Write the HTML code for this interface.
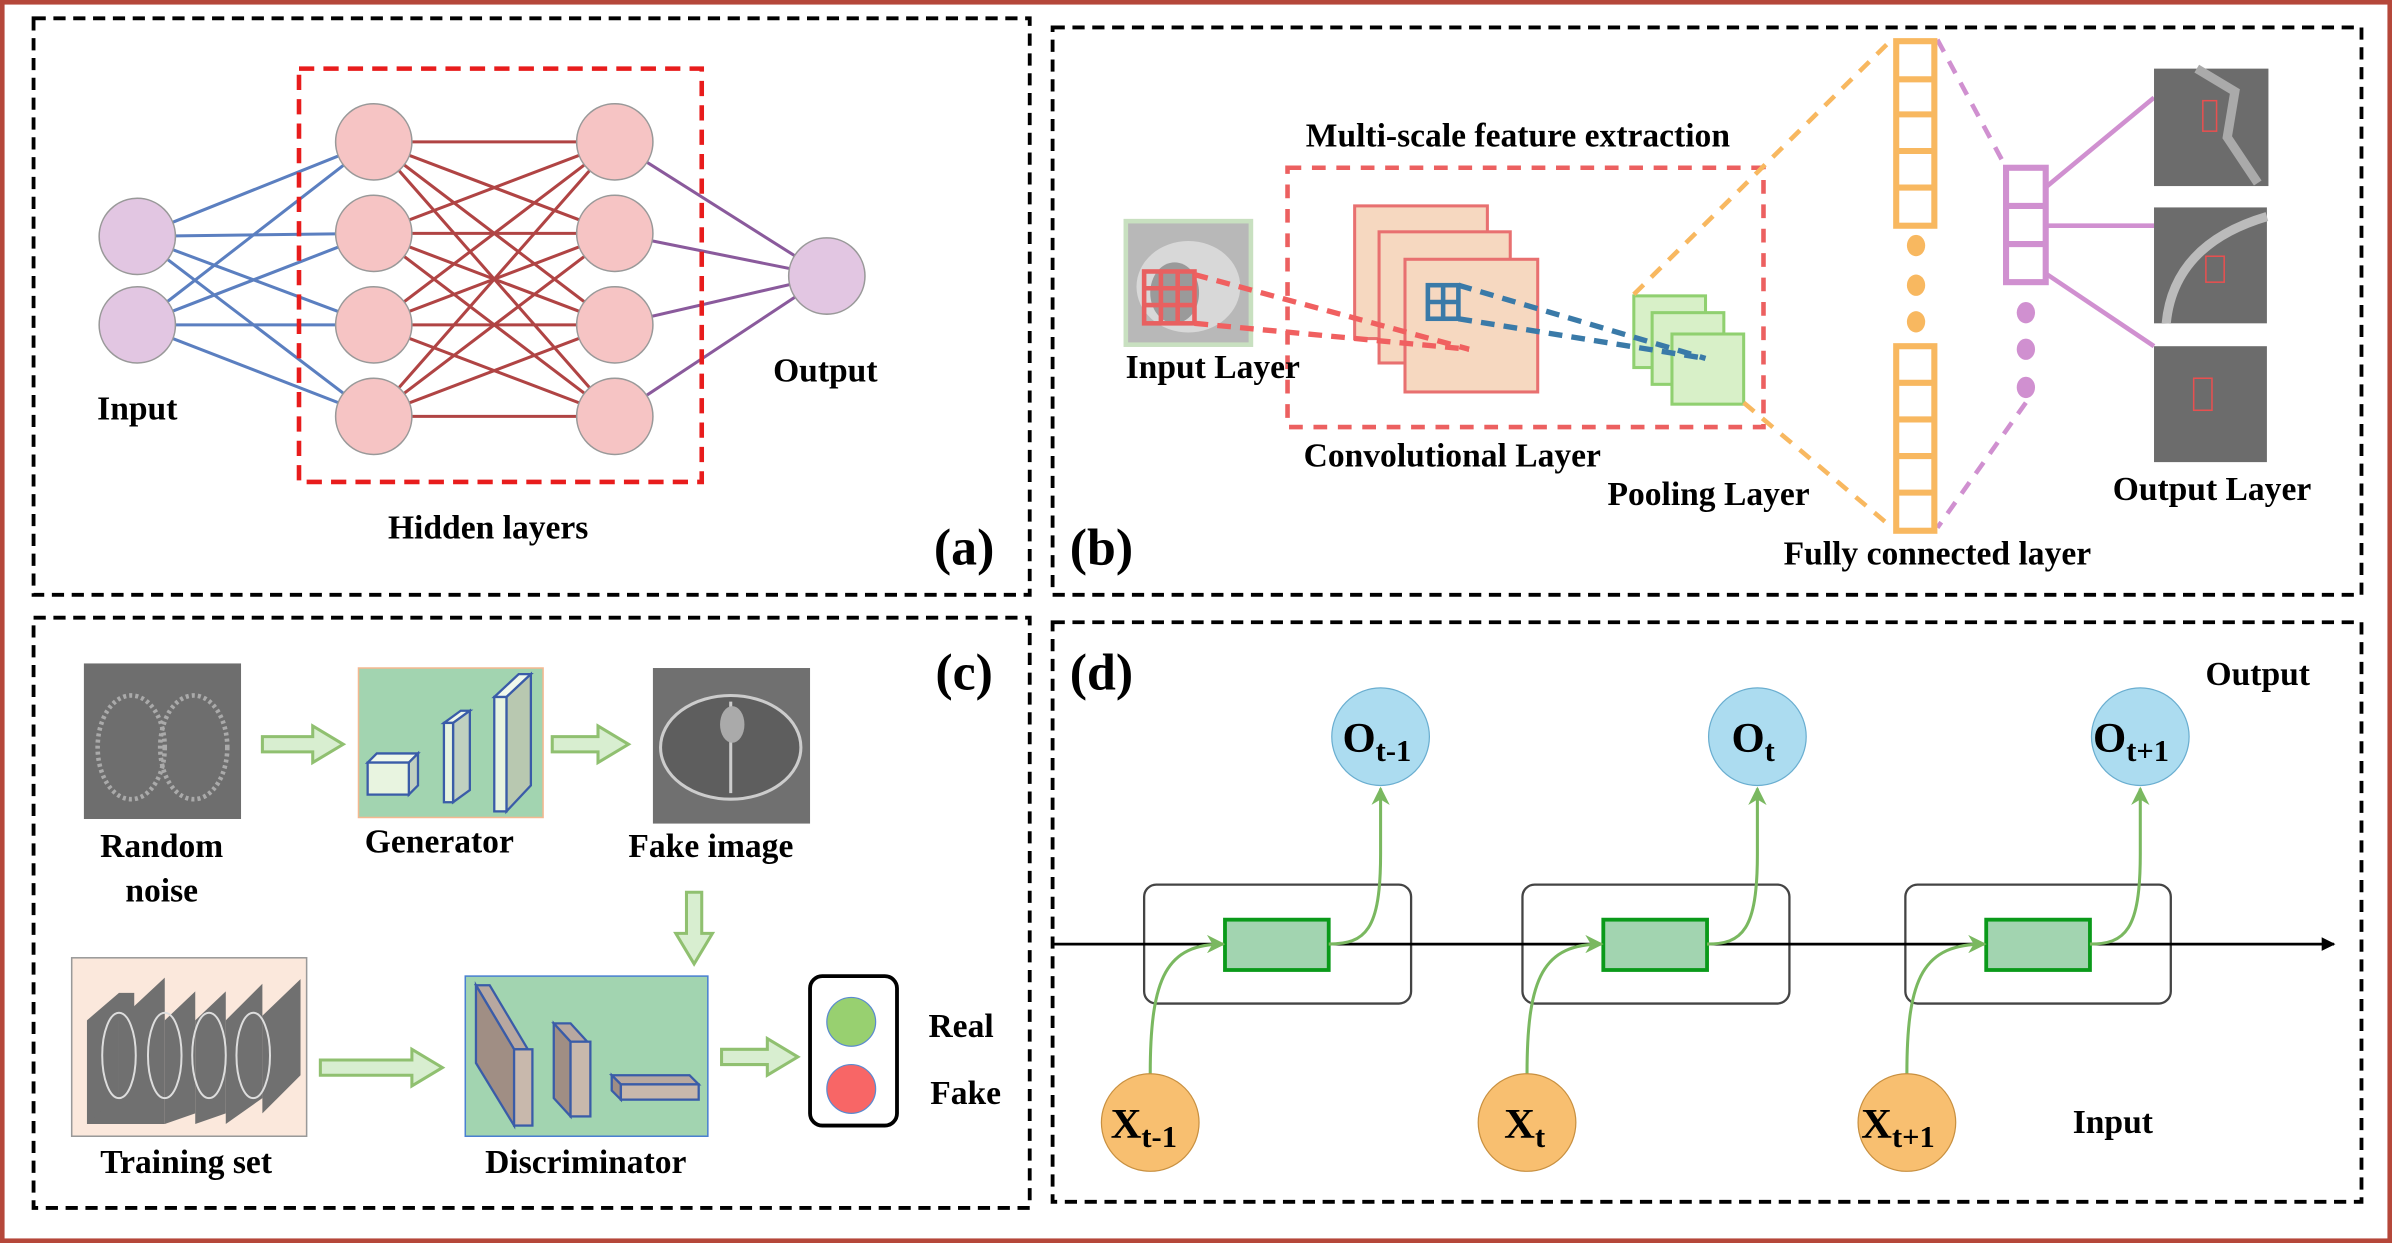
<!DOCTYPE html>
<html><head><meta charset="utf-8"><style>
html,body{margin:0;padding:0;background:#fff;width:2392px;height:1243px;overflow:hidden}
svg{display:block}
text{font-family:"Liberation Serif",serif;font-weight:bold;fill:#000}
</style></head><body>
<svg width="2392" height="1243" viewBox="0 0 1568 815" preserveAspectRatio="none" xmlns="http://www.w3.org/2000/svg">
<defs>
<marker id="ah" viewBox="0 0 10 10" refX="9" refY="5" markerWidth="5" markerHeight="5" orient="auto"><path d="M0,0 L10,5 L0,10 z" fill="#000"/></marker>
<marker id="ag" viewBox="0 0 10 10" refX="9" refY="5" markerWidth="6" markerHeight="6" orient="auto"><path d="M0,0 L10,5 L0,10 L3,5 z" fill="#7ab860"/></marker>
</defs>
<rect x="1.5" y="1.5" width="1565" height="812" fill="#fff" stroke="#b5473a" stroke-width="3"/>
<g fill="none" stroke="#000" stroke-width="2.5" stroke-dasharray="8,5">
<rect x="22" y="12" width="653" height="378"/>
<rect x="690" y="18" width="858" height="372"/>
<rect x="22" y="405" width="653" height="387"/>
<rect x="690" y="408" width="858" height="380"/>
</g>

<!-- (a) -->
<g stroke-width="2">
<g stroke="#5b7fc0">
<line x1="90" y1="155" x2="245" y2="93"/><line x1="90" y1="155" x2="245" y2="153"/><line x1="90" y1="155" x2="245" y2="213"/><line x1="90" y1="155" x2="245" y2="273"/>
<line x1="90" y1="213" x2="245" y2="93"/><line x1="90" y1="213" x2="245" y2="153"/><line x1="90" y1="213" x2="245" y2="213"/><line x1="90" y1="213" x2="245" y2="273"/>
</g>
<g stroke="#b04444">
<line x1="245" y1="93" x2="403" y2="93"/><line x1="245" y1="93" x2="403" y2="153"/><line x1="245" y1="93" x2="403" y2="213"/><line x1="245" y1="93" x2="403" y2="273"/>
<line x1="245" y1="153" x2="403" y2="93"/><line x1="245" y1="153" x2="403" y2="153"/><line x1="245" y1="153" x2="403" y2="213"/><line x1="245" y1="153" x2="403" y2="273"/>
<line x1="245" y1="213" x2="403" y2="93"/><line x1="245" y1="213" x2="403" y2="153"/><line x1="245" y1="213" x2="403" y2="213"/><line x1="245" y1="213" x2="403" y2="273"/>
<line x1="245" y1="273" x2="403" y2="93"/><line x1="245" y1="273" x2="403" y2="153"/><line x1="245" y1="273" x2="403" y2="213"/><line x1="245" y1="273" x2="403" y2="273"/>
</g>
<g stroke="#8a5a9c">
<line x1="403" y1="93" x2="542" y2="181"/><line x1="403" y1="153" x2="542" y2="181"/><line x1="403" y1="213" x2="542" y2="181"/><line x1="403" y1="273" x2="542" y2="181"/>
</g>
</g>
<g stroke="#999" stroke-width="1">
<circle cx="90" cy="155" r="25" fill="#e2c6e2"/><circle cx="90" cy="213" r="25" fill="#e2c6e2"/>
<circle cx="245" cy="93" r="25" fill="#f6c4c4"/><circle cx="245" cy="153" r="25" fill="#f6c4c4"/><circle cx="245" cy="213" r="25" fill="#f6c4c4"/><circle cx="245" cy="273" r="25" fill="#f6c4c4"/>
<circle cx="403" cy="93" r="25" fill="#f6c4c4"/><circle cx="403" cy="153" r="25" fill="#f6c4c4"/><circle cx="403" cy="213" r="25" fill="#f6c4c4"/><circle cx="403" cy="273" r="25" fill="#f6c4c4"/>
<circle cx="542" cy="181" r="25" fill="#e2c6e2"/>
</g>
<rect x="196" y="45" width="264" height="271" fill="none" stroke="#e81c1c" stroke-width="3" stroke-dasharray="10,6"/>
<text x="90" y="275" font-size="22" text-anchor="middle">Input</text>
<text x="541" y="250" font-size="22" text-anchor="middle">Output</text>
<text x="320" y="353" font-size="22" text-anchor="middle">Hidden layers</text>
<text x="632" y="370" font-size="34" text-anchor="middle">(a)</text>

<!-- (b) -->
<rect x="738" y="145" width="82" height="81" fill="#b8b8b8" stroke="#c8e0c0" stroke-width="3"/>
<ellipse cx="779" cy="188" rx="34" ry="30" fill="#d8d8d8"/>
<ellipse cx="770" cy="192" rx="16" ry="20" fill="#9a9a9a"/>
<g stroke="#e86060" stroke-width="3" fill="none">
<rect x="750" y="178" width="33" height="34"/>
<line x1="761" y1="178" x2="761" y2="212"/><line x1="772" y1="178" x2="772" y2="212"/>
<line x1="750" y1="189" x2="783" y2="189"/><line x1="750" y1="200" x2="783" y2="200"/>
</g>
<rect x="844" y="110" width="312" height="170" fill="none" stroke="#ec6060" stroke-width="3" stroke-dasharray="9,7"/>
<g fill="#f6d8c0" stroke="#e87070" stroke-width="2">
<rect x="888" y="135" width="87" height="87"/><rect x="904" y="152" width="86" height="86"/><rect x="921" y="170" width="87" height="87"/>
</g>
<g stroke="#3a7aa8" stroke-width="3" fill="none">
<rect x="936" y="187" width="20" height="22"/><line x1="946" y1="187" x2="946" y2="209"/><line x1="936" y1="198" x2="956" y2="198"/>
</g>
<g stroke="#f06060" stroke-width="3.5" stroke-dasharray="9,6" fill="none">
<line x1="783" y1="180" x2="963" y2="229"/><line x1="783" y1="212" x2="963" y2="229"/>
</g>
<g fill="#d8f0c8" stroke="#90d070" stroke-width="2">
<rect x="1071" y="194" width="47" height="47"/><rect x="1083" y="205" width="47" height="47"/><rect x="1096" y="219" width="47" height="46"/>
</g>
<g stroke="#3a7aa8" stroke-width="3.5" stroke-dasharray="9,6" fill="none">
<line x1="956" y1="187" x2="1118" y2="235"/><line x1="956" y1="209" x2="1118" y2="235"/>
</g>
<g stroke="#f8b860" stroke-width="3" stroke-dasharray="9,7" fill="none">
<line x1="1071" y1="193" x2="1240" y2="26"/><line x1="1143" y1="264" x2="1238" y2="344"/>
</g>
<g stroke="#d090d0" stroke-width="3" stroke-dasharray="9,7" fill="none">
<line x1="1270" y1="26" x2="1314" y2="108"/><line x1="1328" y1="264" x2="1270" y2="346"/>
</g>
<g fill="none" stroke="#f8b860" stroke-width="4">
<rect x="1243" y="27" width="25" height="121"/>
<line x1="1243" y1="52" x2="1268" y2="52"/><line x1="1243" y1="75" x2="1268" y2="75"/><line x1="1243" y1="99" x2="1268" y2="99"/><line x1="1243" y1="123" x2="1268" y2="123"/>
<rect x="1243" y="227" width="25" height="121"/>
<line x1="1243" y1="251" x2="1268" y2="251"/><line x1="1243" y1="275" x2="1268" y2="275"/><line x1="1243" y1="299" x2="1268" y2="299"/><line x1="1243" y1="323" x2="1268" y2="323"/>
</g>
<g fill="#f8b860"><ellipse cx="1256" cy="161" rx="6" ry="7"/><ellipse cx="1256" cy="187" rx="6" ry="7"/><ellipse cx="1256" cy="211" rx="6" ry="7"/></g>
<g fill="none" stroke="#d090d0" stroke-width="4">
<rect x="1315" y="110" width="26" height="75"/><line x1="1315" y1="135" x2="1341" y2="135"/><line x1="1315" y1="160" x2="1341" y2="160"/>
</g>
<g fill="#d090d0"><ellipse cx="1328" cy="205" rx="6" ry="7"/><ellipse cx="1328" cy="229" rx="6" ry="7"/><ellipse cx="1328" cy="254" rx="6" ry="7"/></g>
<g stroke="#d090d0" stroke-width="3">
<line x1="1342" y1="122" x2="1412" y2="64"/><line x1="1342" y1="148" x2="1412" y2="148"/><line x1="1342" y1="180" x2="1412" y2="227"/>
</g>
<rect x="1412" y="45" width="75" height="77" fill="#6c6c6c"/>
<rect x="1412" y="136" width="74" height="76" fill="#6c6c6c"/>
<rect x="1412" y="227" width="74" height="76" fill="#6c6c6c"/>
<path d="M1440,45 L1465,60 L1460,90 L1480,120" stroke="#aaa" stroke-width="6" fill="none"/>
<path d="M1420,212 Q1425,160 1486,142" stroke="#bbb" stroke-width="6" fill="none"/>
<g fill="none" stroke="#e85050" stroke-width="1"><rect x="1444" y="66" width="9" height="20"/><rect x="1446" y="168" width="12" height="17"/><rect x="1438" y="248" width="12" height="21"/></g>
<text x="995" y="96" font-size="22" text-anchor="middle">Multi-scale feature extraction</text>
<text x="795" y="248" font-size="22" text-anchor="middle">Input Layer</text>
<text x="952" y="306" font-size="22" text-anchor="middle">Convolutional Layer</text>
<text x="1120" y="331" font-size="22" text-anchor="middle">Pooling Layer</text>
<text x="1450" y="328" font-size="22" text-anchor="middle">Output Layer</text>
<text x="1270" y="370" font-size="22" text-anchor="middle">Fully connected layer</text>
<text x="722" y="370" font-size="34" text-anchor="middle">(b)</text>

<!-- (c) -->
<rect x="55" y="435" width="103" height="102" fill="#6e6e6e"/>
<ellipse cx="86" cy="490" rx="22" ry="34" fill="none" stroke="#aaa" stroke-width="3" stroke-dasharray="2,2"/>
<ellipse cx="127" cy="490" rx="22" ry="34" fill="none" stroke="#aaa" stroke-width="3" stroke-dasharray="2,2"/>
<rect x="235" y="438" width="121" height="98" fill="#a2d4b0" stroke="#f4b890" stroke-width="1"/>
<g stroke="#3a5ca8" stroke-width="1.5">
<polygon points="241,500 268,500 274,494 247,494" fill="#f0f8ec"/><polygon points="268,500 274,494 274,515 268,521" fill="#c0d0c0"/><rect x="241" y="500" width="27" height="21" fill="#e8f4e0"/>
<polygon points="291,474 302,466 308,466 297,474" fill="#f0f8ec"/><polygon points="297,474 308,466 308,518 297,526" fill="#c0d0c0"/><rect x="291" y="474" width="6" height="52" fill="#e8f4e0"/>
<polygon points="324,457 340,442 348,442 332,457" fill="#f0f8ec"/><polygon points="332,457 348,442 348,515 332,532" fill="#b8c8b0"/><rect x="324" y="457" width="8" height="75" fill="#e8f4e0"/>
</g>
<rect x="428" y="438" width="103" height="102" fill="#707070"/>
<ellipse cx="479" cy="490" rx="46" ry="34" fill="#5e5e5e" stroke="#ccc" stroke-width="2"/>
<line x1="479" y1="460" x2="479" y2="520" stroke="#ccc" stroke-width="2"/>
<ellipse cx="480" cy="475" rx="8" ry="12" fill="#aaa"/>
<g fill="#d8eed0" stroke="#90c070" stroke-width="2">
<polygon points="172,483 205,483 205,476 225,488 205,500 205,493 172,493"/>
<polygon points="362,483 392,483 392,476 412,488 392,500 392,493 362,493"/>
<polygon points="450,585 460,585 460,612 467,612 455,632 443,612 450,612"/>
<polygon points="210,695 270,695 270,688 290,700 270,712 270,705 210,705"/>
<polygon points="473,688 503,688 503,681 523,693 503,705 503,698 473,698"/>
</g>
<rect x="47" y="628" width="154" height="117" fill="#fbe8dc" stroke="#999" stroke-width="1"/>
<g fill="#707070">
<polygon points="57,669 78,651 78,737 57,737"/><polygon points="78,651 78,737 88,737 88,651"/>
<polygon points="78,669 108,641 108,737 78,737"/>
<polygon points="108,669 128,650 128,730 108,737"/>
<polygon points="128,669 148,650 148,730 128,737"/>
<polygon points="148,669 172,645 172,720 148,737"/>
<polygon points="172,666 197,642 197,705 172,730"/>
<polygon points="57,737 92,705 92,737"/>
</g>
<g fill="none" stroke="#ddd" stroke-width="1.3">
<ellipse cx="78" cy="692" rx="11" ry="28"/><ellipse cx="108" cy="692" rx="11" ry="28"/><ellipse cx="137" cy="692" rx="11" ry="28"/><ellipse cx="166" cy="692" rx="11" ry="28"/>
</g>
<rect x="305" y="640" width="159" height="105" fill="#a2d4b0" stroke="#4a80d0" stroke-width="1"/>
<g stroke="#3a5ca8" stroke-width="1.5">
<polygon points="312,646 321,646 346,688 337,688" fill="#b8a8a0"/><polygon points="312,646 337,688 337,738 312,697" fill="#a08e84"/><rect x="337" y="688" width="12" height="50" fill="#c8b8ac"/>
<polygon points="363,671 374,671 385,683 374,683" fill="#b8a8a0"/><polygon points="363,671 374,683 374,732 363,720" fill="#a08e84"/><rect x="374" y="683" width="13" height="49" fill="#c8b8ac"/>
<polygon points="401,705 452,705 458,711 407,711" fill="#b8a8a0"/><polygon points="401,705 407,711 407,721 401,715" fill="#a08e84"/><rect x="407" y="711" width="51" height="10" fill="#c8b8ac"/>
</g>
<rect x="531" y="640" width="57" height="98" rx="8" fill="#fff" stroke="#000" stroke-width="2.5"/>
<ellipse cx="558" cy="670" rx="16" ry="16" fill="#98d070" stroke="#5a8ad0" stroke-width="0.8"/>
<ellipse cx="558" cy="714" rx="16" ry="16" fill="#f86666" stroke="#5a8ad0" stroke-width="0.8"/>
<text x="106" y="562" font-size="22" text-anchor="middle">Random</text>
<text x="106" y="591" font-size="22" text-anchor="middle">noise</text>
<text x="288" y="559" font-size="22" text-anchor="middle">Generator</text>
<text x="466" y="562" font-size="22" text-anchor="middle">Fake image</text>
<text x="122" y="769" font-size="22" text-anchor="middle">Training set</text>
<text x="384" y="769" font-size="22" text-anchor="middle">Discriminator</text>
<text x="630" y="680" font-size="22" text-anchor="middle">Real</text>
<text x="633" y="724" font-size="22" text-anchor="middle">Fake</text>
<text x="632" y="452" font-size="34" text-anchor="middle">(c)</text>

<!-- (d) -->
<g fill="none" stroke="#444" stroke-width="1.5">
<rect x="750" y="580" width="175" height="78" rx="8"/><rect x="998" y="580" width="175" height="78" rx="8"/><rect x="1249" y="580" width="174" height="78" rx="8"/>
</g>
<line x1="690" y1="619" x2="1530" y2="619" stroke="#000" stroke-width="1.8" marker-end="url(#ah)"/>
<g fill="#a2d4b0" stroke="#0a9a1a" stroke-width="2.5">
<rect x="803" y="603" width="68" height="33"/><rect x="1051" y="603" width="68" height="33"/><rect x="1302" y="603" width="68" height="33"/>
</g>
<g fill="none" stroke="#7ab860" stroke-width="2">
<path d="M754,704 C754,640 765,619 802,619" marker-end="url(#ag)"/>
<path d="M1001,704 C1001,640 1012,619 1050,619" marker-end="url(#ag)"/>
<path d="M1250,704 C1250,640 1261,619 1301,619" marker-end="url(#ag)"/>
<path d="M871,619 C895,619 905,610 905,560 L905,517" marker-end="url(#ag)"/>
<path d="M1119,619 C1142,619 1152,610 1152,560 L1152,517" marker-end="url(#ag)"/>
<path d="M1370,619 C1393,619 1403,610 1403,560 L1403,517" marker-end="url(#ag)"/>
</g>
<g fill="#acdcf0" stroke="#6aaed0" stroke-width="0.8">
<ellipse cx="905" cy="483" rx="32" ry="32"/><ellipse cx="1152" cy="483" rx="32" ry="32"/><ellipse cx="1403" cy="483" rx="32" ry="32"/>
</g>
<g fill="#f8bf70" stroke="#c89040" stroke-width="0.8">
<ellipse cx="754" cy="736" rx="32" ry="32"/><ellipse cx="1001" cy="736" rx="32" ry="32"/><ellipse cx="1250" cy="736" rx="32" ry="32"/>
</g>
<g font-size="28">
<text x="880" y="493">O<tspan font-size="20" dy="6">t-1</tspan></text>
<text x="1135" y="493">O<tspan font-size="20" dy="6">t</tspan></text>
<text x="1372" y="493">O<tspan font-size="20" dy="6">t+1</tspan></text>
<text x="728" y="746">X<tspan font-size="20" dy="6">t-1</tspan></text>
<text x="986" y="746">X<tspan font-size="20" dy="6">t</tspan></text>
<text x="1220" y="746">X<tspan font-size="20" dy="6">t+1</tspan></text>
</g>
<text x="1480" y="449" font-size="22" text-anchor="middle">Output</text>
<text x="1385" y="743" font-size="22" text-anchor="middle">Input</text>
<text x="722" y="452" font-size="34" text-anchor="middle">(d)</text>
</svg>
</body></html>
